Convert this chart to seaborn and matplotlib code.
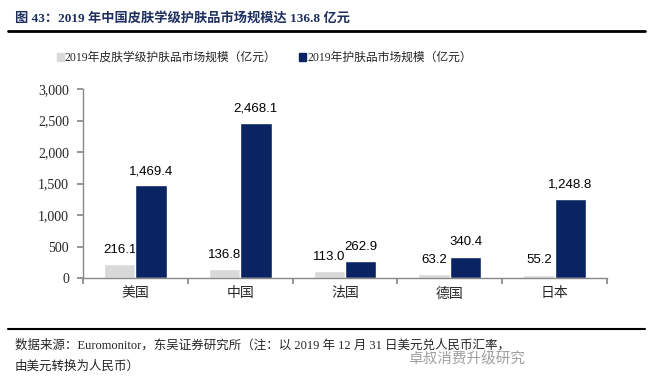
import pandas as pd
import matplotlib.pyplot as plt
import seaborn as sns
from matplotlib.lines import Line2D

sns.set_theme(style="white")
plt.rcParams['font.family'] = ['Liberation Serif', 'Noto Sans CJK SC', 'DejaVu Sans']

# Data
countries = ["美国", "中国", "法国", "德国", "日本"]
derm_sales = [216.1, 136.8, 113.0, 63.2, 55.2]
total_sales = [1469.4, 2468.1, 262.9, 340.4, 1248.8]
series_names = ["2019年皮肤学级护肤品市场规模（亿元）", "2019年护肤品市场规模（亿元）"]
y_ticks = [0, 500, 1000, 1500, 2000, 2500, 3000]

df = pd.DataFrame({
    "country": countries * 2,
    "series": [series_names[0]] * 5 + [series_names[1]] * 5,
    "value": derm_sales + total_sales,
})

gray = "#D9D9D9"
navy = "#0A2463"
axis_col = "#888888"

fig = plt.figure(figsize=(6.66, 3.90), dpi=100)
ax = fig.add_axes([83 / 666, 1 - 278 / 390, (607 - 83) / 666, (278 - 89) / 390])

sns.barplot(data=df, x="country", y="value", hue="series", palette=[gray, navy],
            width=0.6, saturation=1, ax=ax, legend=False)

# gray bars and their labels sit behind the navy bars
for p in ax.containers[0]:
    p.set_zorder(0.4)
for p in ax.containers[1]:
    p.set_zorder(1)
lab_font = dict(family=["Liberation Sans", "DejaVu Sans"], fontsize=9.5, color="black")
t0 = ax.bar_label(ax.containers[0], labels=[f"{v:,.1f}" for v in derm_sales], padding=6, **lab_font)
for t in t0:
    t.set_zorder(0.5)
t1 = ax.bar_label(ax.containers[1], labels=[f"{v:,.1f}" for v in total_sales], padding=6, **lab_font)
for t in t1:
    t.set_zorder(2)

ax.set_ylim(0, 3000)
ax.set_xlim(-0.5, 4.5)
ax.set_yticks(y_ticks)
ax.set_yticklabels([f"{v:,}" for v in y_ticks], fontsize=10)
ax.set_xticks([i + 0.5 for i in range(-1, 5)])
ax.set_xticklabels([])
ax.set_xticks(range(5), minor=True)
ax.set_xticklabels(countries, minor=True, fontsize=10, family=["Noto Sans CJK SC"])
ax.tick_params(axis="x", which="major", length=4, color=axis_col, direction="out", bottom=True)
ax.tick_params(axis="x", which="minor", length=0, pad=6)
ax.tick_params(axis="y", length=4, color=axis_col, direction="out", left=True, pad=6)
ax.set_xlabel("")
ax.set_ylabel("")
for s in ["top", "right"]:
    ax.spines[s].set_visible(False)
for s in ["left", "bottom"]:
    ax.spines[s].set_color(axis_col)
    ax.spines[s].set_linewidth(1)

# legend
handles = [plt.Rectangle((0, 0), 1, 1, color=c) for c in [gray, navy]]
fig.legend(handles, series_names, loc="center left", bbox_to_anchor=(46 / 666, 1 - 58 / 390),
           ncol=2, frameon=False, handlelength=0.6, handleheight=0.6, handletextpad=0.1,
           columnspacing=1.9, prop={"family": ["Liberation Serif", "Noto Sans CJK SC"], "size": 8.5})

# title and footer
fig.text(15 / 666, 1 - 18 / 390, "图 43：2019 年中国皮肤学级护肤品市场规模达 136.8 亿元",
         fontsize=9.5, fontweight="bold", color="#1F3060", va="center", ha="left")
fig.add_artist(Line2D([8 / 666, 645 / 666], [1 - 31 / 390] * 2, color="black", lw=2))
fig.add_artist(Line2D([8 / 666, 645 / 666], [1 - 329 / 390] * 2, color="black", lw=1.5))
fig.text(15 / 666, 1 - 345 / 390,
         "数据来源：Euromonitor，东吴证券研究所（注：以 2019 年 12 月 31 日美元兑人民币汇率，",
         fontsize=9, va="center", ha="left")
fig.text(15 / 666, 1 - 367 / 390, "由美元转换为人民币）", fontsize=9, va="center", ha="left")
fig.text(408 / 666, 1 - 359 / 390, "卓叔消费升级研究", fontsize=10.5, color="#A0A0A0",
         va="center", ha="left", family=["Noto Sans CJK SC"], zorder=0)

plt.savefig("out.png", dpi=100)
